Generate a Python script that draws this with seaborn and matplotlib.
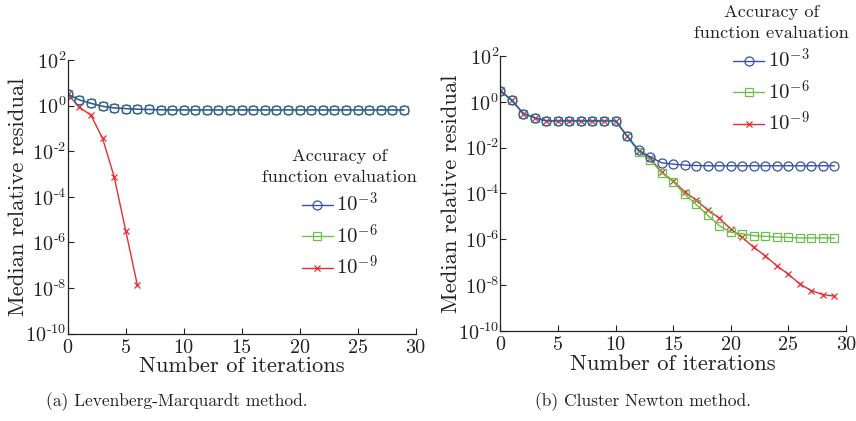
import numpy as np
import pandas as pd
import matplotlib
matplotlib.use("Agg")
import matplotlib.pyplot as plt
from matplotlib.lines import Line2D
from matplotlib.ticker import FixedLocator, FixedFormatter, NullLocator
from matplotlib.mathtext import MathTextParser
import seaborn as sns

# ---- data: log10 of the median relative residual per iteration ----
iters = list(range(30))

lm_acc3 = [0.50, 0.25, 0.10, -0.03, -0.10, -0.13, -0.16, -0.17, -0.18, -0.19,
           -0.19, -0.19, -0.19, -0.19, -0.19, -0.19, -0.19, -0.19, -0.19, -0.19,
           -0.19, -0.19, -0.19, -0.19, -0.19, -0.19, -0.19, -0.19, -0.19, -0.19]
lm_acc6 = [0.50, 0.25, 0.10, -0.03, -0.10, -0.13, -0.16, -0.17, -0.18, -0.19,
           -0.19, -0.19, -0.19, -0.19, -0.19, -0.19, -0.19, -0.19, -0.19, -0.19,
           -0.19, -0.19, -0.19, -0.19, -0.19, -0.19, -0.19, -0.19, -0.19, -0.19]
lm_acc9 = [0.50, -0.07, -0.42, -1.43, -3.11, -5.48, -7.86]

cn_acc3 = [0.49, 0.06, -0.51, -0.70, -0.83, -0.83, -0.83, -0.83, -0.83, -0.83,
           -0.83, -1.48, -2.11, -2.40, -2.66, -2.72, -2.76, -2.78, -2.79, -2.79,
           -2.79, -2.79, -2.79, -2.79, -2.79, -2.79, -2.79, -2.79, -2.79, -2.79]
cn_acc6 = [0.49, 0.06, -0.51, -0.70, -0.83, -0.83, -0.83, -0.83, -0.83, -0.83,
           -0.83, -1.50, -2.18, -2.53, -3.10, -3.48, -4.03, -4.48, -4.95, -5.40,
           -5.69, -5.76, -5.84, -5.87, -5.90, -5.92, -5.94, -5.94, -5.94, -5.95]
cn_acc9 = [0.49, 0.06, -0.51, -0.70, -0.83, -0.83, -0.83, -0.83, -0.83, -0.83,
           -0.83, -1.50, -2.15, -2.45, -3.07, -3.45, -3.92, -4.29, -4.72, -5.07,
           -5.55, -5.92, -6.35, -6.72, -7.15, -7.52, -7.95, -8.24, -8.41, -8.48]

accuracy_labels = [r"$10^{-3}$", r"$10^{-6}$", r"$10^{-9}$"]
ytick_exps = [2, 0, -2, -4, -6, -8, -10]
xtick_vals = [0, 5, 10, 15, 20, 25, 30]
captions = ["(a) Levenberg-Marquardt method.", "(b) Cluster Newton method."]

# ---- style ----
sns.set_style("ticks")
plt.rcParams["font.family"] = ["cmr10", "DejaVu Serif"]
plt.rcParams["mathtext.fontset"] = "cm"
plt.rcParams["axes.unicode_minus"] = False
plt.rcParams["axes.formatter.use_mathtext"] = True

INK = "#222222"
colors = ["#3553a3", "#6cbf4c", "#ec2a33"]
markers = ["o", "s", "x"]
msizes = [6.5, 6.0, 4.5]


def ytick_label(e):
    # exponent written with a plain hyphen
    if e >= 0:
        return r"$10^{%d}$" % e
    s = r"$10^{\text{-}%d}$" % (-e)
    try:
        MathTextParser("path").parse(s)
        return s
    except Exception:
        return r"$10^{%d}$" % e


W, H = 856, 421
fig = plt.figure(figsize=(W / 100, H / 100), dpi=100)
ax_lm = fig.add_axes([0.0791, 0.2074, 0.4065, 0.6501])
ax_cn = fig.add_axes([0.5845, 0.2138, 0.4037, 0.6532])


def draw(ax, series):
    # red first, blue last so the open circles sit on top
    for idx in [2, 1, 0]:
        vals = series[idx]
        df = pd.DataFrame({"iteration": iters[:len(vals)],
                           "residual": np.power(10.0, vals)})
        sns.lineplot(data=df, x="iteration", y="residual", ax=ax,
                     color=colors[idx], marker=markers[idx], markersize=msizes[idx],
                     mfc="none", mec=colors[idx], mew=0.9, lw=1.0, legend=False)
    ax.set_yscale("log")
    ax.set_xlim(0, 30)
    ax.set_ylim(1e-10, 1e2)
    ax.yaxis.set_major_locator(FixedLocator([10.0 ** e for e in ytick_exps]))
    ax.yaxis.set_major_formatter(FixedFormatter([ytick_label(e) for e in ytick_exps]))
    ax.yaxis.set_minor_locator(NullLocator())
    ax.xaxis.set_major_locator(FixedLocator(xtick_vals))
    ax.set_xticklabels([str(v) for v in xtick_vals])
    ax.tick_params(direction="in", length=4, width=0.8, labelsize=14.5,
                   colors=INK, labelcolor=INK)
    ax.tick_params(axis="y", pad=1)
    ax.tick_params(axis="x", pad=4)
    for s in ["top", "right"]:
        ax.spines[s].set_visible(False)
    for s in ["left", "bottom"]:
        ax.spines[s].set_color(INK)
        ax.spines[s].set_linewidth(0.9)
    ax.set_xlabel("Number of iterations", fontsize=16.3, color=INK)
    ax.set_ylabel("Median relative residual", fontsize=16.3, color=INK)
    ax.xaxis.label.set_va("center")
    ax.yaxis.label.set_va("center")
    bbox = ax.get_position()
    h_px = bbox.height * H
    w_px = bbox.width * W
    ax.xaxis.set_label_coords(0.5, -33 / h_px)
    ax.yaxis.set_label_coords(-49 / w_px, 0.5)


draw(ax_lm, [lm_acc3, lm_acc6, lm_acc9])
draw(ax_cn, [cn_acc3, cn_acc6, cn_acc9])

handles = [Line2D([], [], color=colors[i], marker=markers[i], markersize=msizes[i],
                  mfc="none", mec=colors[i], mew=0.9, lw=1.0) for i in range(3)]

for ax, anchor in [(ax_lm, (0.782, 0.715)), (ax_cn, (0.784, 1.225))]:
    leg = ax.legend(handles, accuracy_labels, title="Accuracy of\nfunction evaluation",
                    loc="upper center", bbox_to_anchor=anchor, frameon=False,
                    fontsize=15, title_fontsize=13.2, handlelength=1.5,
                    handletextpad=0.15, labelspacing=0.35, borderpad=0,
                    alignment="center")
    for t in leg.get_texts():
        t.set_color(INK)
    title = leg.get_title()
    title.set_color(INK)
    title.set_multialignment("center")
    title.set_linespacing(1.45)

fig.text(176.5 / W, 1 - 402 / H, captions[0], ha="center", va="center",
         fontsize=12.5, color=INK)
fig.text(643 / W, 1 - 402 / H, captions[1], ha="center", va="center",
         fontsize=12.5, color=INK)

fig.savefig("out.png", dpi=100)
